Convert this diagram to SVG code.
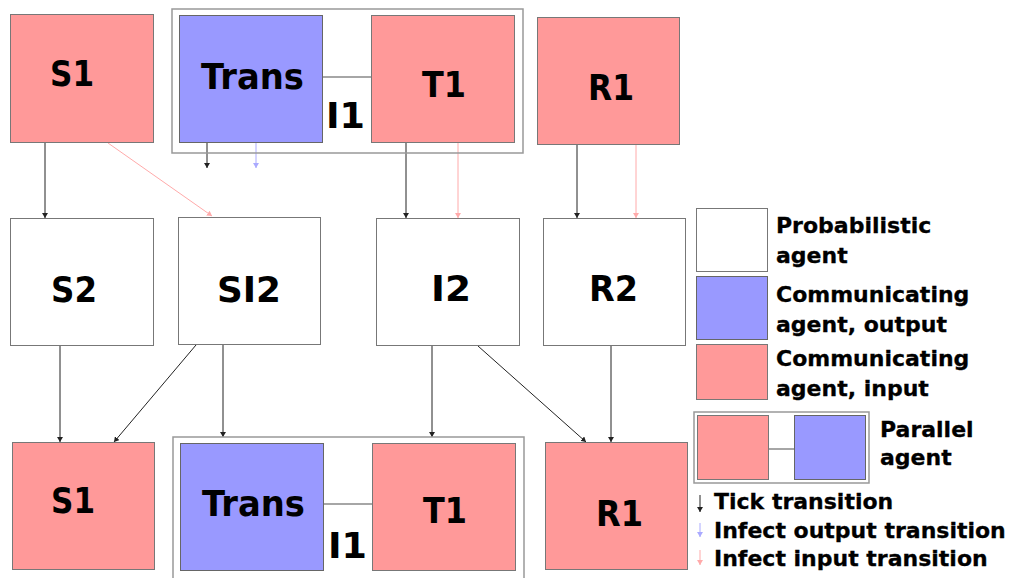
<svg xmlns="http://www.w3.org/2000/svg" width="1011" height="578" viewBox="0 0 1011 578">
<style>
.in{fill:#ff9999;stroke:#777;stroke-width:1}
.out{fill:#9999ff;stroke:#666;stroke-width:1}
.prob{fill:#fff;stroke:#777;stroke-width:1}
.par{fill:none;stroke:#999;stroke-width:1.5}
.link{stroke:#888;stroke-width:1.5;fill:none}
.lbl{font-family:"DejaVu Sans","Liberation Sans",sans-serif;font-weight:bold;font-size:36px;fill:#000;text-anchor:middle}
.leg{font-family:"DejaVu Sans","Liberation Sans",sans-serif;font-weight:bold;font-size:22px;fill:#000;stroke:#000;stroke-width:0.3}
.tick{stroke:#222;stroke-width:1;fill:none;marker-end:url(#ak)}
.infin{stroke:#ffaaaa;stroke-width:1;fill:none;marker-end:url(#ap)}
.infout{stroke:#aaaaff;stroke-width:1;fill:none;marker-end:url(#ab)}
</style>
<defs>
<marker id="ak" markerUnits="userSpaceOnUse" markerWidth="6" markerHeight="6" refX="5" refY="3" orient="auto"><path d="M0,0 L5,3 L0,6 z" fill="#222"/></marker>
<marker id="ap" markerUnits="userSpaceOnUse" markerWidth="6" markerHeight="6" refX="5" refY="3" orient="auto"><path d="M0,0 L5,3 L0,6 z" fill="#ffaaaa"/></marker>
<marker id="ab" markerUnits="userSpaceOnUse" markerWidth="6" markerHeight="6" refX="5" refY="3" orient="auto"><path d="M0,0 L5,3 L0,6 z" fill="#aaaaff"/></marker>
</defs>
<rect width="1011" height="578" fill="#fff"/>

<g id="connectors">
<line class="tick" x1="45" y1="143" x2="45" y2="218"/>
<line class="infin" x1="108" y1="143" x2="212" y2="216"/>
<line class="tick" x1="207" y1="143" x2="207" y2="168"/>
<line class="infout" x1="256" y1="143" x2="256" y2="168"/>
<line class="tick" x1="406" y1="143" x2="406" y2="218"/>
<line class="infin" x1="458" y1="143" x2="458" y2="218"/>
<line class="tick" x1="577" y1="145" x2="577" y2="218"/>
<line class="infin" x1="636" y1="145" x2="636" y2="218"/>
<line class="tick" x1="60" y1="346" x2="60" y2="442"/>
<line class="tick" x1="196" y1="345" x2="114" y2="442"/>
<line class="tick" x1="223" y1="345" x2="223" y2="437"/>
<line class="tick" x1="432" y1="346" x2="432" y2="437"/>
<line class="tick" x1="478" y1="346" x2="586" y2="442"/>
<line class="tick" x1="611" y1="346" x2="611" y2="442"/>
</g>

<g id="S1-top">
<rect class="in" x="10.5" y="14.5" width="143" height="128"/>
<text class="lbl" x="72" y="86" textLength="44" lengthAdjust="spacingAndGlyphs">S1</text>
</g>
<g id="I1-top">
<rect class="par" x="172" y="9" width="351" height="144"/>
<line class="link" x1="323" y1="77" x2="371" y2="77"/>
<text class="lbl" x="345.5" y="128" textLength="39" lengthAdjust="spacingAndGlyphs">I1</text>
<g id="Trans-top">
<rect class="out" x="179.5" y="15.5" width="143" height="127"/>
<text class="lbl" x="252.5" y="89" textLength="103" lengthAdjust="spacingAndGlyphs">Trans</text>
</g>
<g id="T1-top">
<rect class="in" x="371.5" y="15.5" width="143" height="127"/>
<text class="lbl" x="444" y="97" textLength="44" lengthAdjust="spacingAndGlyphs">T1</text>
</g>
</g>
<g id="R1-top">
<rect class="in" x="537.5" y="17.5" width="142" height="127"/>
<text class="lbl" x="611" y="100" textLength="46" lengthAdjust="spacingAndGlyphs">R1</text>
</g>

<g id="S2">
<rect class="prob" x="10.5" y="218.5" width="143" height="127"/>
<text class="lbl" x="74" y="302" textLength="46" lengthAdjust="spacingAndGlyphs">S2</text>
</g>
<g id="SI2">
<rect class="prob" x="178.5" y="217.5" width="142" height="127"/>
<text class="lbl" x="249" y="302" textLength="64" lengthAdjust="spacingAndGlyphs">SI2</text>
</g>
<g id="I2">
<rect class="prob" x="376.5" y="218.5" width="143" height="127"/>
<text class="lbl" x="451" y="301" textLength="40" lengthAdjust="spacingAndGlyphs">I2</text>
</g>
<g id="R2">
<rect class="prob" x="543.5" y="218.5" width="142" height="127"/>
<text class="lbl" x="613.5" y="301" textLength="49" lengthAdjust="spacingAndGlyphs">R2</text>
</g>

<g id="S1-bottom">
<rect class="in" x="12.5" y="442.5" width="142" height="127"/>
<text class="lbl" x="73" y="513" textLength="44" lengthAdjust="spacingAndGlyphs">S1</text>
</g>
<g id="I1-bottom">
<rect class="par" x="173" y="437" width="351" height="155"/>
<line class="link" x1="323" y1="504" x2="372" y2="504"/>
<text class="lbl" x="347.5" y="558" textLength="39" lengthAdjust="spacingAndGlyphs">I1</text>
<g id="Trans-bottom">
<rect class="out" x="180.5" y="443.5" width="143" height="127"/>
<text class="lbl" x="253.5" y="516" textLength="103" lengthAdjust="spacingAndGlyphs">Trans</text>
</g>
<g id="T1-bottom">
<rect class="in" x="372.5" y="443.5" width="143" height="127"/>
<text class="lbl" x="445" y="523" textLength="44" lengthAdjust="spacingAndGlyphs">T1</text>
</g>
</g>
<g id="R1-bottom">
<rect class="in" x="545.5" y="442.5" width="142" height="127"/>
<text class="lbl" x="619.5" y="526" textLength="47" lengthAdjust="spacingAndGlyphs">R1</text>
</g>

<g id="legend">
<rect class="prob" x="696.5" y="208.5" width="71" height="63"/>
<text class="leg" x="776" y="233">Probabilistic</text>
<text class="leg" x="776" y="263">agent</text>
<rect class="out" x="696.5" y="276.5" width="71" height="63"/>
<text class="leg" x="776" y="302">Communicating</text>
<text class="leg" x="776" y="332">agent, output</text>
<rect class="in" x="696.5" y="344.5" width="71" height="55"/>
<text class="leg" x="776" y="366">Communicating</text>
<text class="leg" x="776" y="396">agent, input</text>
<rect class="par" x="694" y="412" width="175" height="71"/>
<rect class="in" x="697.5" y="415.5" width="71" height="64"/>
<rect class="out" x="794.5" y="415.5" width="71" height="64"/>
<line class="link" x1="769" y1="449" x2="794" y2="449"/>
<text class="leg" x="880" y="437">Parallel</text>
<text class="leg" x="880" y="465">agent</text>
<line class="tick" x1="700" y1="495" x2="700" y2="512"/>
<text class="leg" x="714" y="509">Tick transition</text>
<line class="infout" x1="700" y1="523" x2="700" y2="537"/>
<text class="leg" x="714" y="538">Infect output transition</text>
<line class="infin" x1="700" y1="550" x2="700" y2="565"/>
<text class="leg" x="714" y="566">Infect input transition</text>
</g>
</svg>
